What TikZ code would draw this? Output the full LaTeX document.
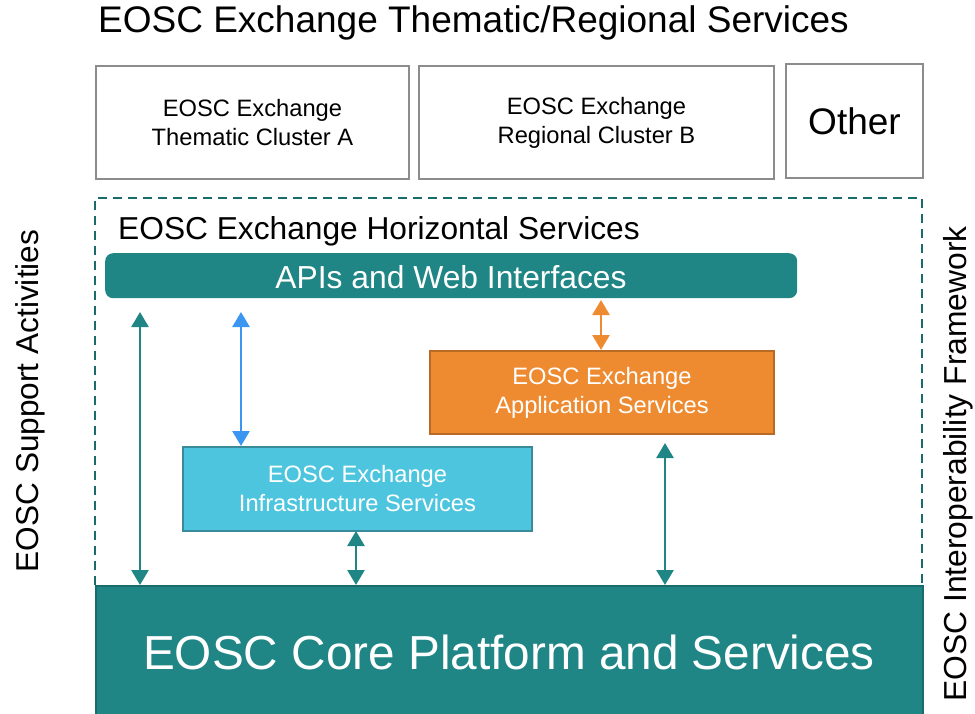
\documentclass[tikz,border=0pt]{standalone}
\usepackage{fontspec}
\setmainfont{Liberation Sans}
\usetikzlibrary{arrows.meta}
\definecolor{teal1}{HTML}{1F8585}
\definecolor{teald}{HTML}{1A6B6B}
\definecolor{gray1}{HTML}{8C8C8C}
\definecolor{orange1}{HTML}{EE8B31}
\definecolor{oranged}{HTML}{B96B26}
\definecolor{cyan1}{HTML}{4DC5DE}
\definecolor{cyand}{HTML}{3A8A9A}
\definecolor{blue1}{HTML}{3A96F0}
\tikzset{
  graybox/.style={draw=gray1, line width=2pt, fill=white},
  lbl/.style={inner sep=0pt, align=center},
  boxtxt/.style={lbl, font=\fontsize{23.7}{29}\selectfont},
  dblarrow/.style={line width=2.6pt, {Triangle[width=17pt,length=15pt]}-{Triangle[width=17pt,length=15pt]}},
}
\begin{document}
\begin{tikzpicture}[x=1pt,y=-1pt]
\useasboundingbox (0,0) rectangle (975,713);
% title
\node[lbl, anchor=west, font=\fontsize{37}{44}\selectfont] (title) at (98,23) {EOSC Exchange Thematic/Regional Services};
% top boxes
\node[graybox, minimum width=313pt, minimum height=113pt, anchor=north west] (boxA) at (95,65) {};
\node[boxtxt] (tA) at (boxA.center) {EOSC Exchange\\Thematic Cluster A};
\node[graybox, minimum width=355pt, minimum height=113pt, anchor=north west] (boxB) at (418,65) {};
\node[boxtxt] (tB) at (boxB.center) {EOSC Exchange\\Regional Cluster B};
\node[graybox, minimum width=137pt, minimum height=114pt, anchor=north west] (boxC) at (785,63) {};
\node[lbl, font=\fontsize{37}{44}\selectfont] (tC) at (boxC.center) {Other};
% dashed frame
\draw[teald, line width=2pt, dash pattern=on 9pt off 6pt] (95,585) -- (95,198) -- (922,198) -- (922,585);
\node[lbl, anchor=west, font=\fontsize{31.7}{38}\selectfont] (hs) at (118,231) {EOSC Exchange Horizontal Services};
% APIs bar
\node[fill=teal1, rounded corners=8pt, minimum width=692pt, minimum height=45pt, anchor=north west, inner sep=0pt] (api) at (105,253) {};
\node[lbl, text=white, font=\fontsize{31.8}{38}\selectfont] (apit) at (451,277) {APIs and Web Interfaces};
% application services
\node[fill=orange1, draw=oranged, line width=2pt, minimum width=344pt, minimum height=83pt, anchor=north west] (app) at (429,350) {};
\node[boxtxt, text=white] (appt) at (app.center) {EOSC Exchange\\Application Services};
% infrastructure services
\node[fill=cyan1, draw=cyand, line width=2pt, minimum width=349pt, minimum height=84pt, anchor=north west] (inf) at (182,446) {};
\node[boxtxt, text=white] (inft) at (inf.center) {EOSC Exchange\\Infrastructure Services};
% core platform
\node[fill=teal1, draw=teald, line width=1.5pt, minimum width=827pt, minimum height=130pt, anchor=north west] (core) at (95,585) {};
\node[lbl, text=white, font=\fontsize{47.7}{56}\selectfont] (coret) at (509,652) {EOSC Core Platform and Services};
% side labels
\node[lbl, rotate=90, font=\fontsize{31.6}{38}\selectfont] (sup) at (30,401) {EOSC Support Activities};
\node[lbl, rotate=90, font=\fontsize{31.8}{38}\selectfont] (iof) at (958,464) {EOSC Interoperability Framework};
% arrows
\coordinate (a1t) at (140,312); \coordinate (a1b) at (140,585);
\draw[dblarrow, teal1] (a1t) -- (a1b);
\coordinate (a2t) at (241,312); \coordinate (a2b) at (241,446);
\draw[dblarrow, blue1] (a2t) -- (a2b);
\coordinate (a3t) at (601,300);
\draw[dblarrow, orange1] (a3t) -- (app.north -| a3t);
\coordinate (a4t) at (356,531);
\draw[dblarrow, teal1] (a4t) -- (core.north -| a4t);
\coordinate (a5t) at (665,443);
\draw[dblarrow, teal1] (a5t) -- (core.north -| a5t);
\end{tikzpicture}
\end{document}
